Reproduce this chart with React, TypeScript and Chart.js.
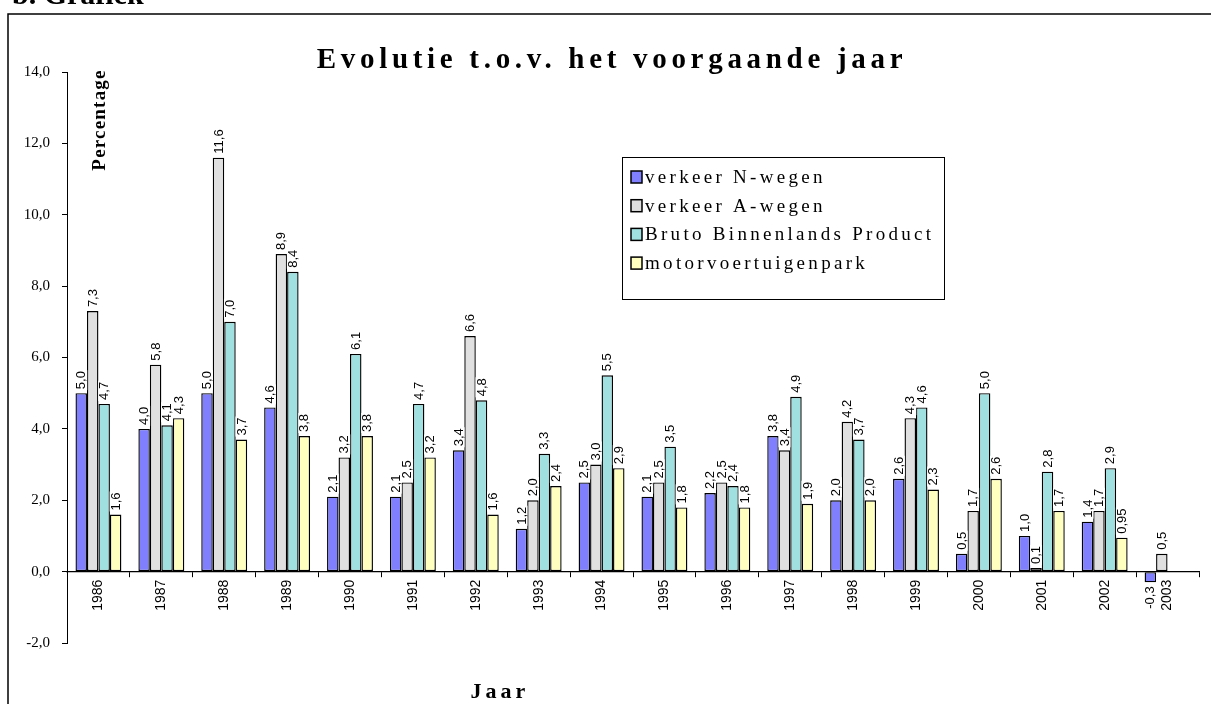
import React, { useEffect, useRef } from 'react';
import { Chart, registerables } from 'chart.js';

Chart.register(...registerables);

// ---- data ----
const years = ['1986', '1987', '1988', '1989', '1990', '1991', '1992', '1993', '1994', '1995', '1996', '1997', '1998', '1999', '2000', '2001', '2002', '2003'];
const verkeerNWegen = [5.0, 4.0, 5.0, 4.6, 2.1, 2.1, 3.4, 1.2, 2.5, 2.1, 2.2, 3.8, 2.0, 2.6, 0.5, 1.0, 1.4, -0.3];
const verkeerAWegen = [7.3, 5.8, 11.6, 8.9, 3.2, 2.5, 6.6, 2.0, 3.0, 2.5, 2.5, 3.4, 4.2, 4.3, 1.7, 0.1, 1.7, 0.5];
const brutoBinnenlandsProduct = [4.7, 4.1, 7.0, 8.4, 6.1, 4.7, 4.8, 3.3, 5.5, 3.5, 2.4, 4.9, 3.7, 4.6, 5.0, 2.8, 2.9, null];
const motorvoertuigenpark = [1.6, 4.3, 3.7, 3.8, 3.8, 3.2, 1.6, 2.4, 2.9, 1.8, 1.8, 1.9, 2.0, 2.3, 2.6, 1.7, 0.95, null];
const seriesNames = ['verkeer N-wegen', 'verkeer A-wegen', 'Bruto Binnenlands Product', 'motorvoertuigenpark'];
const seriesColors = ['#8080FF', '#E0E0E0', '#A0E0E0', '#FFFFC0'];
const yMin = -2;
const yMax = 14;
const yStep = 2;
const chartTitle = 'Evolutie t.o.v. het voorgaande jaar';
const yTitle = 'Percentage';
const xTitle = 'Jaar';
const headerText = 'b. Grafiek';

const SERIF = '"Liberation Serif", "Times New Roman", serif';
const SANS = '"Liberation Sans", Arial, sans-serif';

function fmtLabel(v: number): string {
  const t = v * 10;
  const s = Math.abs(t - Math.round(t)) < 1e-6 ? v.toFixed(1) : v.toFixed(2);
  return s.replace('.', ',');
}

function setSpacing(ctx: any, px: number) {
  try { ctx.letterSpacing = px + 'px'; } catch (e) { /* ignore */ }
}

const overlayPlugin = {
  id: 'overlay',
  afterDatasetsDraw(chart: any) {
    const ctx = chart.ctx;
    ctx.save();
    ctx.font = '13px ' + SANS;
    ctx.textBaseline = 'middle';
    chart.data.datasets.forEach((ds: any, di: number) => {
      const meta = chart.getDatasetMeta(di);
      meta.data.forEach((el: any, i: number) => {
        const v = ds.data[i];
        if (v === null || v === undefined) return;
        const txt = fmtLabel(v);
        const w = ctx.measureText(txt).width;
        const { x, y } = el.getProps(['x', 'y'], true);
        const gap = 4;
        const h = 12;
        ctx.save();
        ctx.translate(x, v >= 0 ? y - gap : y + gap);
        ctx.rotate(-Math.PI / 2);
        ctx.fillStyle = '#ffffff';
        if (v >= 0) {
          ctx.fillRect(-1, -h / 2, w + 2, h);
          ctx.textAlign = 'left';
          ctx.fillStyle = '#000';
          ctx.fillText(txt, 0, 0.5);
        } else {
          ctx.fillRect(-w - 1, -h / 2, w + 2, h);
          ctx.textAlign = 'right';
          ctx.fillStyle = '#000';
          ctx.fillText(txt, 0, 0.5);
        }
        ctx.restore();
      });
    });
    ctx.restore();
  },
  afterDraw(chart: any) {
    const ctx = chart.ctx;
    ctx.save();
    // frame
    ctx.strokeStyle = '#000';
    ctx.lineWidth = 1.5;
    ctx.beginPath();
    ctx.moveTo(8, 720);
    ctx.lineTo(8, 14);
    ctx.lineTo(1220, 14);
    ctx.stroke();
    // header (cut off at top)
    ctx.fillStyle = '#000';
    ctx.font = 'bold 30px ' + SERIF;
    ctx.textAlign = 'left';
    ctx.textBaseline = 'alphabetic';
    ctx.fillText(headerText, 12, 4);
    // title
    ctx.font = 'bold 29px ' + SERIF;
    setSpacing(ctx, 4.7);
    ctx.textAlign = 'center';
    ctx.fillText(chartTitle, 612, 68);
    // y title
    ctx.save();
    ctx.font = 'bold 19px ' + SERIF;
    setSpacing(ctx, 1.2);
    ctx.translate(100, 120);
    ctx.rotate(-Math.PI / 2);
    ctx.textAlign = 'center';
    ctx.textBaseline = 'middle';
    ctx.fillText(yTitle, 0, 0);
    ctx.restore();
    // x title
    ctx.font = 'bold 22px ' + SERIF;
    setSpacing(ctx, 4);
    ctx.textAlign = 'center';
    ctx.fillText(xTitle, 500, 698);
    // legend
    setSpacing(ctx, 0);
    const lx = 622, ly = 157, lw = 322, lh = 142;
    ctx.fillStyle = '#fff';
    ctx.fillRect(lx, ly, lw, lh);
    ctx.lineWidth = 1;
    ctx.strokeStyle = '#000';
    ctx.strokeRect(lx + 0.5, ly + 0.5, lw, lh);
    ctx.font = '19px ' + SERIF;
    setSpacing(ctx, 3.3);
    ctx.textAlign = 'left';
    ctx.textBaseline = 'middle';
    chart.data.datasets.forEach((ds: any, i: number) => {
      const cy = 177 + i * 28.7;
      ctx.fillStyle = ds.backgroundColor;
      ctx.fillRect(631, cy - 6, 11, 12);
      ctx.lineWidth = 1.5;
      ctx.strokeRect(631, cy - 6, 11, 12);
      ctx.fillStyle = '#000';
      ctx.fillText(ds.label, 645, cy + 1);
    });
    ctx.restore();
  },
};

export default function App() {
  const ref = useRef<HTMLCanvasElement | null>(null);
  useEffect(() => {
    if (!ref.current) return;
    const seriesData = [verkeerNWegen, verkeerAWegen, brutoBinnenlandsProduct, motorvoertuigenpark];
    const chart = new Chart(ref.current, {
      type: 'bar',
      data: {
        labels: years,
        datasets: seriesData.map((d, i) => ({
          label: seriesNames[i],
          data: d,
          backgroundColor: seriesColors[i],
          borderColor: '#000',
          borderWidth: 1.4,
          borderSkipped: false,
          categoryPercentage: 0.73,
          barPercentage: 1,
        })),
      },
      options: {
        responsive: false,
        animation: false,
        devicePixelRatio: 1,
        layout: { padding: { left: 0, top: 72, right: 12, bottom: 61 } },
        plugins: {
          legend: { display: false },
          title: { display: false },
          tooltip: { enabled: false },
        },
        scales: {
          x: {
            position: { y: 0 },
            grid: { drawOnChartArea: false, tickLength: 5, color: '#000', offset: true },
            border: { color: '#000', width: 1.2 },
            ticks: {
              autoSkip: false,
              minRotation: 90,
              maxRotation: 90,
              color: '#000',
              padding: 3,
              font: { family: 'Liberation Sans', size: 14 },
            },
          },
          y: {
            min: yMin,
            max: yMax,
            afterFit: (s: any) => { s.width = 67; },
            ticks: {
              stepSize: yStep,
              color: '#000',
              padding: 12,
              font: { family: 'Liberation Serif', size: 15 },
              callback: (v: any) => Number(v).toFixed(1).replace('.', ','),
            },
            grid: { drawOnChartArea: false, tickLength: 5, color: '#000' },
            border: { color: '#000', width: 1 },
          },
        },
      } as any,
      plugins: [overlayPlugin],
    });
    return () => chart.destroy();
  }, []);
  return (
    <canvas
      ref={ref}
      width={1211}
      height={704}
      style={{ position: 'absolute', left: 0, top: 0, display: 'block', width: 1211, height: 704 }}
    />
  );
}
